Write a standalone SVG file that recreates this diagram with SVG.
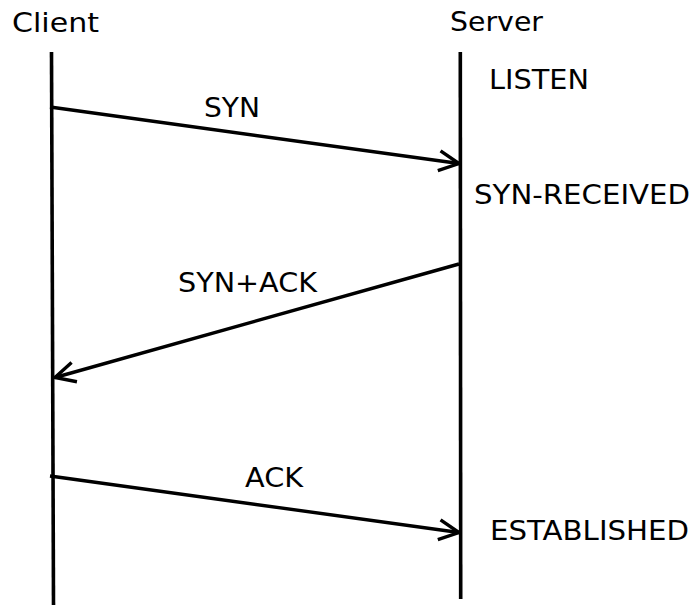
<svg xmlns="http://www.w3.org/2000/svg" width="693" height="605" viewBox="0 0 693 605">
  <style>
    text { font-family: "DejaVu Sans", sans-serif; font-size: 27px; fill: #000; }
    .life { stroke: #000; stroke-width: 3.6; fill: none; }
    .msg { stroke: #000; stroke-width: 3.4; fill: none; }
  </style>
  <defs>
    <marker id="chevron" viewBox="0 0 24 24" refX="22" refY="12" markerWidth="24" markerHeight="24" markerUnits="userSpaceOnUse" orient="auto">
      <path d="M2,2 L22,12 L2,22" fill="none" stroke="#000" stroke-width="3.4"/>
    </marker>
  </defs>

  <g id="client">
    <text x="12" y="32" textLength="87" lengthAdjust="spacingAndGlyphs">Client</text>
    <line class="life" x1="51.5" y1="52" x2="53.5" y2="605"/>
  </g>

  <g id="server">
    <text x="450" y="31" textLength="93" lengthAdjust="spacingAndGlyphs">Server</text>
    <line class="life" x1="460.3" y1="52" x2="460.7" y2="599"/>
  </g>

  <g id="states">
    <text x="489" y="89" textLength="100" lengthAdjust="spacingAndGlyphs">LISTEN</text>
    <text x="474" y="204" textLength="216" lengthAdjust="spacingAndGlyphs">SYN-RECEIVED</text>
    <text x="490" y="540" textLength="199" lengthAdjust="spacingAndGlyphs">ESTABLISHED</text>
  </g>

  <g id="connectors">
    <line class="msg" x1="50" y1="107" x2="459" y2="163.5" marker-end="url(#chevron)"/>
    <line class="msg" x1="459" y1="264" x2="55" y2="377.5" marker-end="url(#chevron)"/>
    <line class="msg" x1="50" y1="476" x2="459" y2="532.5" marker-end="url(#chevron)"/>
    <text x="204" y="117" textLength="56" lengthAdjust="spacingAndGlyphs">SYN</text>
    <text x="178" y="292" textLength="139" lengthAdjust="spacingAndGlyphs">SYN+ACK</text>
    <text x="245" y="487" textLength="58" lengthAdjust="spacingAndGlyphs">ACK</text>
  </g>
</svg>
